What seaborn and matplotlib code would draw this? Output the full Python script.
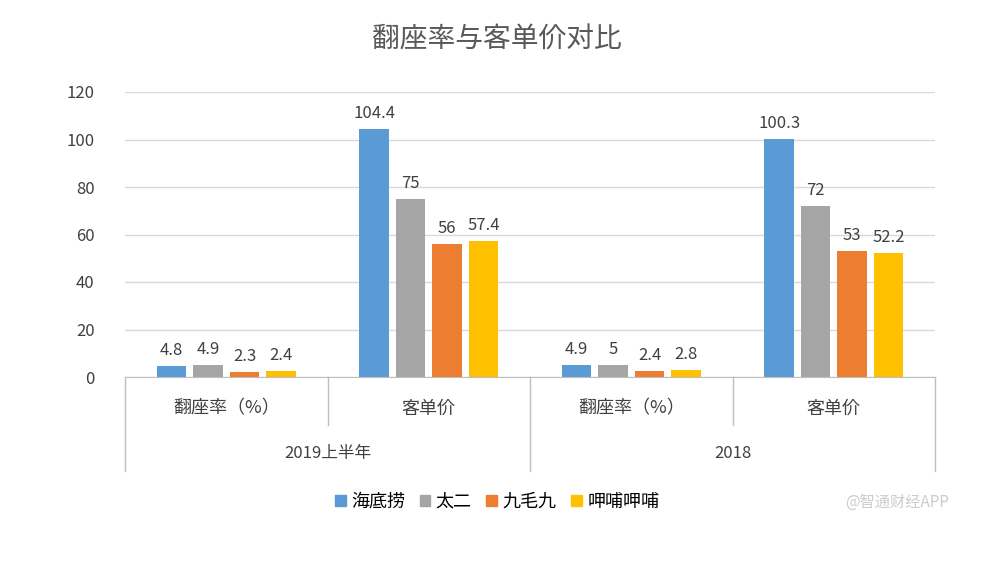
import pandas as pd
import matplotlib.pyplot as plt
from matplotlib import font_manager
import seaborn as sns

cjk = [f.name for f in font_manager.fontManager.ttflist if 'CJK' in f.name]
cjk_name = next((n for n in cjk if 'SC' in n), cjk[0] if cjk else 'DejaVu Sans')
plt.rcParams['font.family'] = 'sans-serif'
plt.rcParams['font.sans-serif'] = [cjk_name, 'DejaVu Sans']

categories = ['2019上半年-翻座率', '2019上半年-客单价', '2018-翻座率', '2018-客单价']
sub_labels = ['翻座率（%）', '客单价', '翻座率（%）', '客单价']
year_labels = ['2019上半年', '2018']
brands = ['海底捞', '太二', '九毛九', '呷哺呷哺']
haidilao = [4.8, 104.4, 4.9, 100.3]
taier = [4.9, 75, 5, 72]
jiumaojiu = [2.3, 56, 2.4, 53]
xiabu = [2.4, 57.4, 2.8, 52.2]
colors = ['#5B9BD5', '#A5A5A5', '#ED7D31', '#FFC000']

rows = []
for b, vals in zip(brands, [haidilao, taier, jiumaojiu, xiabu]):
    for c, v in zip(categories, vals):
        rows.append({'cat': c, 'brand': b, 'value': v})
df = pd.DataFrame(rows)

fig = plt.figure(figsize=(9.94, 5.66), dpi=100)
ax = fig.add_axes([125/994, 1-377/566, 810/994, 285/566])
sns.barplot(data=df, x='cat', y='value', hue='brand', order=categories,
            hue_order=brands, palette=colors, width=0.72, gap=0.2,
            saturation=1, ax=ax, legend=False)

for cont in ax.containers:
    ax.bar_label(cont, fmt='%g', padding=5, fontsize=12, color='#404040')

ax.set_ylim(0, 120)
ax.set_xlim(-0.5, 3.5)
ax.set_yticks(range(0, 121, 20))
ax.tick_params(axis='y', length=0, labelsize=12, labelcolor='#404040', pad=22)
ax.set_xticks([])
ax.set_xlabel('')
ax.set_ylabel('')
ax.grid(axis='y', color='#D9D9D9', linewidth=1)
ax.set_axisbelow(True)
for s in ['top', 'right', 'left']:
    ax.spines[s].set_visible(False)
ax.spines['bottom'].set_color('#BFBFBF')

trans = ax.get_xaxis_transform()
for i, lab in enumerate(sub_labels):
    ax.text(i, -0.11, lab, transform=trans, ha='center', va='center', fontsize=13, color='#404040')
for j, lab in enumerate(year_labels):
    ax.text(2 * j + 0.5, -0.27, lab, transform=trans, ha='center', va='center', fontsize=12, color='#404040')
for x, low in [(-0.5, -0.33), (0.5, -0.17), (1.5, -0.33), (2.5, -0.17), (3.5, -0.33)]:
    ax.plot([x, x], [0, low], transform=trans, color='#BFBFBF', lw=1, clip_on=False)

fig.text(0.5, 1 - 40/566, '翻座率与客单价对比', ha='center', va='center', fontsize=20, color='#595959')

handles = [plt.Rectangle((0, 0), 1, 1, color=c) for c in colors]
fig.legend(handles, brands, loc='center', bbox_to_anchor=(0.5, 1 - 502/566), ncol=4,
           frameon=False, fontsize=13, handlelength=0.6, handleheight=0.6,
           handletextpad=0.3, columnspacing=0.8)
fig.text(0.955, 1 - 502/566, '@智通财经APP', ha='right', va='center', fontsize=11, color='#CCCCCC')

fig.savefig('out.png', dpi=100)
